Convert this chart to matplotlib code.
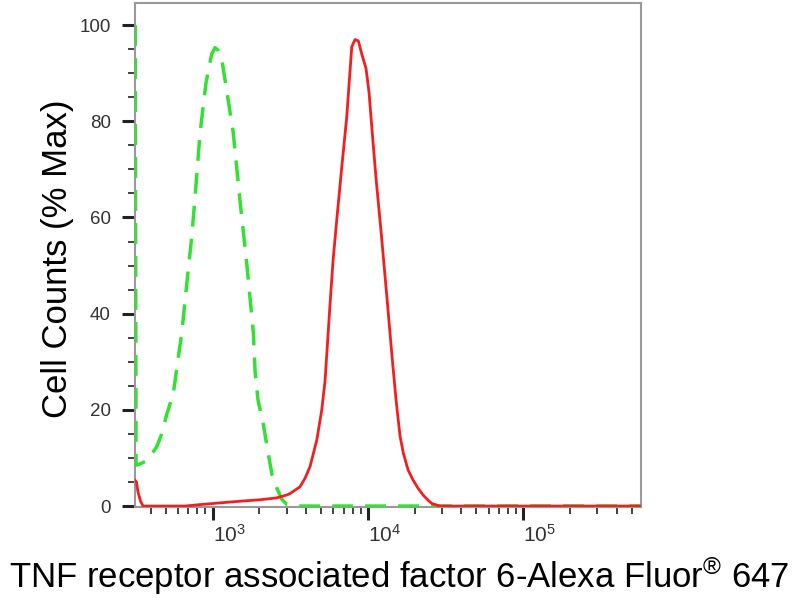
import matplotlib
matplotlib.use("Agg")
import matplotlib.pyplot as plt
from matplotlib.ticker import MultipleLocator, LogLocator, NullFormatter, FixedLocator

plt.rcParams['font.family'] = ['Liberation Sans', 'DejaVu Sans']
plt.rcParams['mathtext.fontset'] = 'custom'
plt.rcParams['mathtext.rm'] = 'Liberation Sans'
plt.rcParams['mathtext.it'] = 'Liberation Sans'

# control (isotype) histogram - green dashed
ctrl_x = [318, 322, 341, 377, 396, 437, 471, 507, 560, 591, 634, 682, 735, 771,
          831, 908, 988, 1038, 1085, 1146, 1240, 1361, 1503, 1661, 1832, 1879,
          1964, 2123, 2287, 2416, 2589, 2790, 3020, 3398, 570000]
ctrl_y = [100, 8.5, 8.75, 9.4, 10.3, 12.3, 15, 19, 23.5, 29, 36, 46, 56, 64,
          77.5, 88, 94, 95.3, 94.8, 93, 86, 77.5, 63.5, 50.4, 36, 28,
          22, 17, 10.8, 6.5, 3.8, 1.4, 0.3, 0, 0]

# TRAF6 stained sample - red solid
samp_x = [318, 324, 331, 344, 357, 666, 831, 1064, 1503, 2022, 2589, 3006, 3156,
          3656, 3944, 4246, 4690, 5051, 5301, 5710, 5970, 6306, 6796, 7317, 7878,
          8271, 8690, 9137, 9730, 10180, 10650, 11300, 12170, 13300, 14320, 15200,
          16120, 16930, 18150, 19550, 21050, 22660, 24420, 25890, 29150, 570000]
samp_y = [5.3, 5.0, 3.0, 1.0, 0, 0, 0.3, 0.6, 1.0, 1.3, 1.7, 2.3, 2.6,
          4.0, 5.8, 8.2, 13.7, 20, 26, 42, 51, 59.5, 70.5, 81, 95.5,
          97, 96.7, 94, 91, 86, 78, 68, 57, 43, 31, 22,
          14.5, 11, 7.5, 5.4, 3.7, 2.3, 1.2, 0.5, 0, 0]

y_major = [0, 20, 40, 60, 80, 100]
x_major = [1e3, 1e4, 1e5]
x_labels = [r'$10^{3}$', r'$10^{4}$', r'$10^{5}$']

fig = plt.figure(figsize=(8, 6), dpi=100)
ax = fig.add_axes([0.16875, 0.155, 0.632, 0.8408])

ax.plot(ctrl_x, ctrl_y, color='#33e033', lw=2.5, dashes=(6, 3.5), zorder=3)
ax.plot(samp_x, samp_y, color='#f02020', lw=2.0, zorder=4)

ax.set_xscale('log')
ax.set_xlim(317, 5.7e5)
ax.set_ylim(-0.2, 104.7)

ax.xaxis.set_major_locator(FixedLocator(x_major))
ax.set_xticklabels(x_labels)
ax.xaxis.set_minor_locator(LogLocator(base=10, subs=range(2, 10)))
ax.xaxis.set_minor_formatter(NullFormatter())
ax.yaxis.set_major_locator(FixedLocator(y_major))
ax.yaxis.set_minor_locator(MultipleLocator(5))

for s in ax.spines.values():
    s.set_color('#999999')
    s.set_linewidth(1.5)

ax.tick_params(which='major', direction='out', length=9.5, width=2.2,
               color='#222222', labelcolor='#333333')
ax.tick_params(which='minor', direction='out', length=5, width=1.3, color='#333333')
ax.tick_params(axis='x', which='major', pad=3, labelsize=15)
ax.tick_params(axis='y', which='major', pad=8, labelsize=13.5)
for lab in ax.get_xticklabels():
    lab.set_horizontalalignment('left')

fig.text(58 / 800, 1 - 259 / 600, 'Cell Counts (% Max)', rotation=90,
         ha='center', va='center', fontsize=25)
fig.text(399 / 800, 1 - 588 / 600,
         'TNF receptor associated factor 6-Alexa Fluor$^{\u00ae}$ 647',
         ha='center', va='baseline', fontsize=25)

fig.savefig('out.png', dpi=100)
